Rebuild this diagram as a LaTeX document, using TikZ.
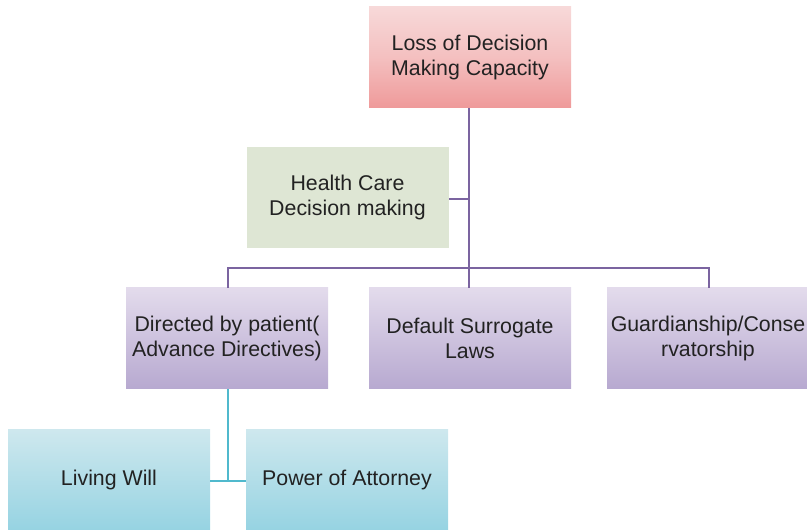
\documentclass[tikz,border=0pt]{standalone}
\usepackage{fontspec}
\setmainfont{Liberation Sans}
\begin{document}
\definecolor{pinkT}{RGB}{247,217,217}
\definecolor{pinkB}{RGB}{239,154,154}
\definecolor{greenF}{RGB}{222,230,212}
\definecolor{lilacT}{RGB}{227,219,236}
\definecolor{lilacB}{RGB}{183,169,208}
\definecolor{cyanT}{RGB}{206,232,238}
\definecolor{cyanB}{RGB}{150,211,226}
\definecolor{treeline}{RGB}{123,100,160}
\definecolor{leafline}{RGB}{80,185,205}
\definecolor{ink}{RGB}{34,34,34}
\begin{tikzpicture}[x=0.75pt,y=-0.75pt,
  box/.style={minimum width=151.5pt,minimum height=75.75pt,inner sep=0pt,
    align=center,text=ink,font=\fontsize{16}{18.75}\selectfont},
  pinkbox/.style={box,top color=pinkT,bottom color=pinkB,middle color=pinkT!60!pinkB},
  greenbox/.style={box,fill=greenF},
  lilacbox/.style={box,top color=lilacT,bottom color=lilacB},
  cyanbox/.style={box,top color=cyanT,bottom color=cyanB},
  branch/.style={draw=treeline,line width=1.9pt},
  leafbranch/.style={draw=leafline,line width=1.8pt}]
\useasboundingbox (0,0) rectangle (807,530);
\clip (0,0) rectangle (807,530);

\node[pinkbox]  (loss)     at (470,57)  {\raisebox{-1.5pt}{\parbox{150pt}{\centering Loss of Decision\\Making Capacity}}};
\node[greenbox] (health)   at (347.5,197.5) {\raisebox{-1.5pt}{\parbox{150pt}{\centering Health Care\\Decision making}}};
\node[lilacbox] (directed) at (227,338.5) {\raisebox{-1.5pt}{\parbox{150pt}{\centering Directed by patient(\\Advance Directives)}}};
\node[lilacbox] (default)  at (470,338.5) {\raisebox{-1.5pt}{\parbox{150pt}{\centering Default Surrogate\\Laws}}};
\node[lilacbox] (guard)    at (708,338.5) {\raisebox{-1.5pt}{\parbox{150pt}{\centering Guardianship/Conse\\rvatorship}}};
\node[cyanbox]  (living)   at (109,480) {\raisebox{-1.5pt}{Living Will}};
\node[cyanbox]  (power)    at (347,480) {\raisebox{-1.5pt}{Power of Attorney}};

\coordinate (hub) at (469,268);
\coordinate (side) at (469,199);

% main tree
\draw[branch] (loss.south -| hub) -- (hub);
\draw[branch] (health.east |- side) -- (side);
\draw[branch] (hub) -| (directed.north -| 228,0);
\draw[branch] (hub) -| (guard.north -| 709,0);
\draw[branch] (hub) -- (default.north -| hub);

% advance directives
\coordinate (fork) at (228,481);
\draw[leafbranch] (directed.south -| fork) -- (fork);
\draw[leafbranch] (living.east |- fork) -- (power.west |- fork);
\end{tikzpicture}
\end{document}
